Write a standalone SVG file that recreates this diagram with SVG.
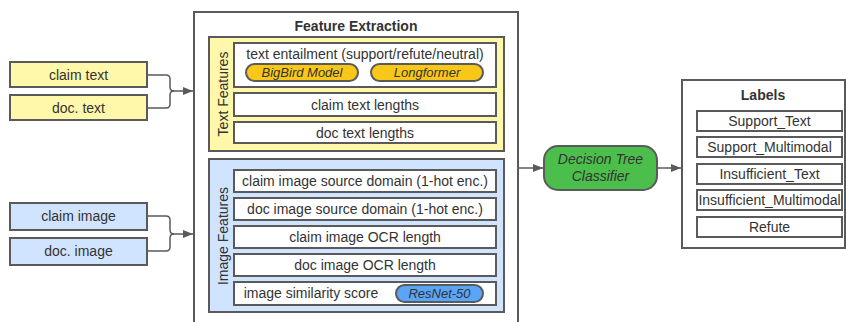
<svg xmlns="http://www.w3.org/2000/svg" width="846" height="322" viewBox="0 0 846 322">
<defs>
<marker id="ah" viewBox="0 0 10 10" refX="10" refY="5" markerWidth="10" markerHeight="10" markerUnits="userSpaceOnUse" orient="auto">
<path d="M0,1 L10,5 L0,9 Z" fill="#5a5a5a"/>
</marker>
<style>
text{font-family:"Liberation Sans",Arial,sans-serif;fill:#333;}
.in{font-size:14px;text-anchor:middle;}
.ttl{font-size:14px;font-weight:bold;text-anchor:middle;}
.bx{stroke:#5a5a5a;stroke-width:2;}
.w{fill:#fff;stroke:#5a5a5a;stroke-width:2;}
.yl{fill:#fff8aa;stroke:#5a5a5a;stroke-width:2;}
.bl{fill:#d1e4ff;stroke:#5a5a5a;stroke-width:2;}
.pg{fill:#f8c718;stroke:#5a5a5a;stroke-width:2;}
.pb{fill:#5aa5f7;stroke:#5a5a5a;stroke-width:2;}
.it{font-size:13px;font-style:italic;text-anchor:middle;}
.c{fill:none;stroke:#5a5a5a;stroke-width:1.5;}
</style>
</defs>
<g id="connectors">
<path class="c" d="M148,75 H166 Q170,75 170,79 V87 Q170,91 174,91 H193" marker-end="url(#ah)"/>
<path class="c" d="M148,108 H166 Q170,108 170,104 V95 Q170,91 174,91"/>
<path class="c" d="M148,216 H166 Q170,216 170,220 V230 Q170,234 174,234 H193" marker-end="url(#ah)"/>
<path class="c" d="M148,251 H166 Q170,251 170,247 V238 Q170,234 174,234"/>
<path class="c" d="M519,168 H543" marker-end="url(#ah)"/>
<path class="c" d="M658,168 H681" marker-end="url(#ah)"/>
</g>
<g id="claim-text"><rect class="yl" x="10" y="62" width="137" height="25"/><text class="in" x="78.5" y="79.5">claim text</text></g>
<g id="doc-text"><rect class="yl" x="10" y="95" width="137" height="25"/><text class="in" x="78.5" y="112.5">doc. text</text></g>
<g id="claim-image"><rect class="bl" x="10" y="203" width="137" height="27"/><text class="in" x="78.5" y="221">claim image</text></g>
<g id="doc-image"><rect class="bl" x="10" y="238" width="137" height="27"/><text class="in" x="78.5" y="256">doc. image</text></g>
<g id="feature-extraction">
<rect class="w" x="194" y="12" width="324" height="320"/>
<text class="ttl" x="356" y="31">Feature Extraction</text>
</g>
<g id="text-features">
<rect class="yl" x="209" y="37" width="295" height="114"/>
<text class="in" transform="translate(228,94) rotate(-90)">Text Features</text>
<rect class="w" x="234" y="43" width="262" height="44"/>
<text class="in" x="365" y="59">text entailment (support/refute/neutral)</text>
<rect class="pg" x="246" y="64" width="112" height="17" rx="8.5"/>
<text class="it" x="302" y="77">BigBird Model</text>
<rect class="pg" x="371" y="64" width="112" height="17" rx="8.5"/>
<text class="it" x="427" y="77">Longformer</text>
<rect class="w" x="234" y="93" width="262" height="23"/>
<text class="in" x="365" y="109.5">claim text lengths</text>
<rect class="w" x="234" y="122" width="262" height="21"/>
<text class="in" x="365" y="137.5">doc text lengths</text>
</g>
<g id="image-features">
<rect class="bl" x="209" y="159" width="295" height="153"/>
<text class="in" transform="translate(228,236) rotate(-90)">Image Features</text>
<rect class="w" x="234" y="170" width="262" height="22"/>
<text class="in" x="365" y="186">claim image source domain (1-hot enc.)</text>
<rect class="w" x="234" y="198" width="262" height="22"/>
<text class="in" x="365" y="214">doc image source domain (1-hot enc.)</text>
<rect class="w" x="234" y="226" width="262" height="22"/>
<text class="in" x="365" y="242">claim image OCR length</text>
<rect class="w" x="234" y="254" width="262" height="22"/>
<text class="in" x="365" y="270">doc image OCR length</text>
<rect class="w" x="234" y="282" width="262" height="23"/>
<text class="in" x="311" y="298" style="text-anchor:middle">image similarity score</text>
<rect class="pg pb" x="396" y="285" width="87" height="17" rx="8.5"/>
<text class="it" x="439.5" y="298">ResNet-50</text>
</g>
<g id="decision-tree">
<rect x="544" y="146" width="113" height="44" rx="14" fill="#4cbe4c" stroke="#5a5a5a" stroke-width="2"/>
<text class="it" x="600.5" y="164" style="font-size:14px">Decision Tree</text>
<text class="it" x="600.5" y="181" style="font-size:14px">Classifier</text>
</g>
<g id="labels">
<rect class="w" x="682" y="80" width="163" height="168"/>
<text class="ttl" x="763" y="100">Labels</text>
<rect class="w" x="697" y="111" width="145" height="20"/>
<text class="in" x="769.5" y="126">Support_Text</text>
<rect class="w" x="697" y="137" width="145" height="20"/>
<text class="in" x="769.5" y="152">Support_Multimodal</text>
<rect class="w" x="697" y="164" width="145" height="20"/>
<text class="in" x="769.5" y="179">Insufficient_Text</text>
<rect class="w" x="697" y="190" width="145" height="20"/>
<text class="in" x="769.5" y="205">Insufficient_Multimodal</text>
<rect class="w" x="697" y="217" width="145" height="20"/>
<text class="in" x="769.5" y="232">Refute</text>
</g>
</svg>
